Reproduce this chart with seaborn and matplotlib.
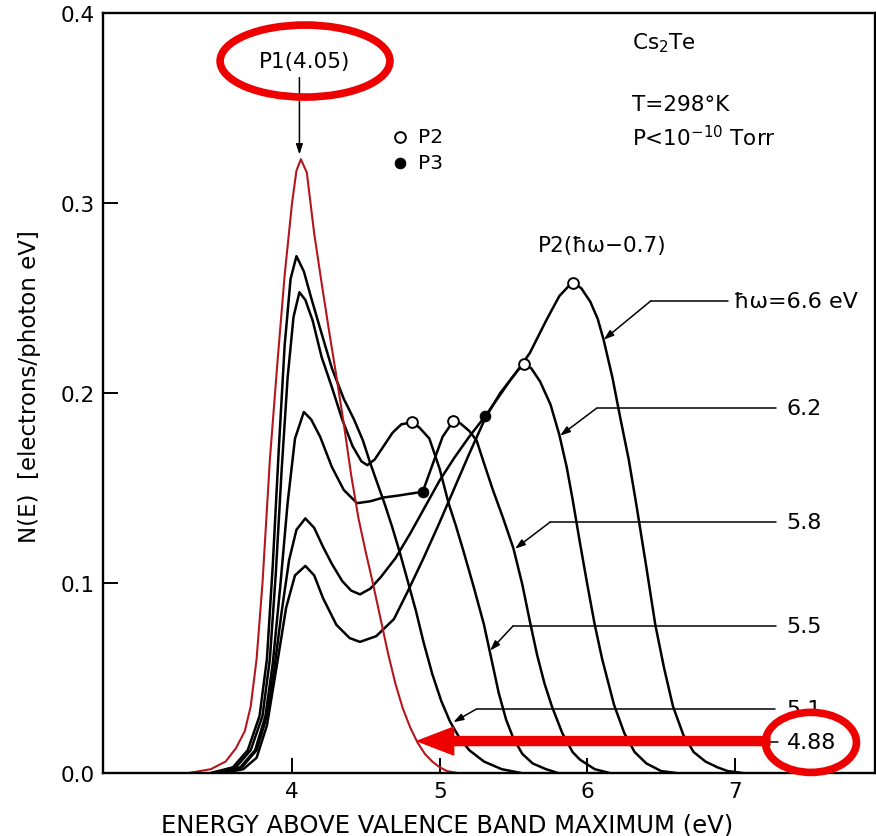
import pandas as pd
import seaborn as sns
import matplotlib.pyplot as plt
from matplotlib.patches import Ellipse

sns.set_style("ticks")
plt.rcParams['font.family'] = ['DejaVu Sans']
plt.rcParams['mathtext.fontset'] = 'dejavusans'
for k in ('text.color', 'axes.labelcolor', 'xtick.color', 'ytick.color'):
    plt.rcParams[k] = 'black'

# photon energies of the energy distribution curves (eV)
photon = ['4.88', '5.1', '5.5', '5.8', '6.2', '6.6']

# energy above valence band maximum (eV) and N(E)
e_488 = [3.30, 3.45, 3.55, 3.62, 3.68, 3.72, 3.76, 3.80, 3.85, 3.90, 3.95, 4.00, 4.03, 4.06,
         4.10, 4.15, 4.20, 4.25, 4.30, 4.35, 4.40, 4.45, 4.50, 4.55, 4.60, 4.65, 4.70, 4.75,
         4.80, 4.85, 4.90, 4.95, 5.00, 5.05, 5.12]
n_488 = [0.000, 0.002, 0.006, 0.013, 0.022, 0.035, 0.060, 0.100, 0.165, 0.215, 0.262, 0.300,
         0.317, 0.323, 0.316, 0.284, 0.258, 0.233, 0.209, 0.184, 0.157, 0.134, 0.116, 0.099,
         0.081, 0.063, 0.047, 0.034, 0.024, 0.016, 0.010, 0.006, 0.003, 0.001, 0.000]

e_510 = [3.45, 3.60, 3.70, 3.78, 3.83, 3.87, 3.91, 3.95, 3.99, 4.03, 4.08, 4.13, 4.19, 4.27,
         4.35, 4.42, 4.48, 4.53, 4.58, 4.63, 4.68, 4.73, 4.78, 4.84, 4.89, 4.95, 5.01, 5.07,
         5.13, 5.20, 5.30, 5.42, 5.55]
n_510 = [0.000, 0.003, 0.012, 0.030, 0.060, 0.110, 0.170, 0.225, 0.260, 0.272, 0.264, 0.250,
         0.234, 0.213, 0.197, 0.186, 0.175, 0.163, 0.152, 0.141, 0.129, 0.116, 0.102, 0.085,
         0.069, 0.052, 0.038, 0.027, 0.019, 0.012, 0.006, 0.002, 0.000]

e_550 = [3.48, 3.62, 3.72, 3.80, 3.85, 3.89, 3.93, 3.97, 4.01, 4.05, 4.09, 4.14, 4.20, 4.27,
         4.34, 4.41, 4.47, 4.51, 4.56, 4.62, 4.68, 4.74, 4.81, 4.86, 4.93, 5.00, 5.06, 5.11,
         5.16, 5.23, 5.30, 5.35, 5.40, 5.45, 5.50, 5.56, 5.63, 5.72, 5.80]
n_550 = [0.000, 0.003, 0.012, 0.030, 0.060, 0.105, 0.160, 0.208, 0.240, 0.253, 0.249, 0.238,
         0.219, 0.203, 0.186, 0.172, 0.164, 0.162, 0.165, 0.172, 0.179, 0.1835, 0.1845, 0.182,
         0.176, 0.160, 0.142, 0.130, 0.117, 0.098, 0.078, 0.060, 0.042, 0.028, 0.018, 0.010,
         0.005, 0.002, 0.000]

e_580 = [3.50, 3.65, 3.75, 3.82, 3.87, 3.92, 3.97, 4.02, 4.08, 4.13, 4.19, 4.27, 4.35, 4.44,
         4.53, 4.62, 4.72, 4.80, 4.885, 4.95, 5.02, 5.09, 5.14, 5.20, 5.25, 5.30, 5.36, 5.43,
         5.50, 5.56, 5.61, 5.66, 5.71, 5.76, 5.83, 5.90, 5.95, 6.05, 6.15]
n_580 = [0.000, 0.003, 0.012, 0.030, 0.058, 0.098, 0.142, 0.176, 0.190, 0.186, 0.177, 0.161,
         0.149, 0.142, 0.143, 0.145, 0.146, 0.147, 0.148, 0.162, 0.177, 0.185, 0.184, 0.180,
         0.175, 0.163, 0.149, 0.134, 0.118, 0.099, 0.080, 0.062, 0.047, 0.035, 0.021, 0.011,
         0.007, 0.002, 0.000]

e_620 = [3.52, 3.66, 3.76, 3.83, 3.88, 3.93, 3.98, 4.03, 4.09, 4.15, 4.21, 4.27, 4.34, 4.40,
         4.46, 4.53, 4.60, 4.70, 4.80, 4.90, 5.00, 5.10, 5.20, 5.31, 5.40, 5.48, 5.53, 5.57,
         5.62, 5.68, 5.75, 5.81, 5.86, 5.90, 5.95, 6.00, 6.05, 6.10, 6.18, 6.25, 6.32, 6.40,
         6.50, 6.60]
n_620 = [0.000, 0.003, 0.012, 0.030, 0.055, 0.085, 0.112, 0.128, 0.134, 0.129, 0.119, 0.110,
         0.101, 0.096, 0.094, 0.097, 0.103, 0.113, 0.126, 0.140, 0.154, 0.166, 0.177, 0.188,
         0.198, 0.207, 0.212, 0.215, 0.213, 0.206, 0.194, 0.178, 0.161, 0.144, 0.121, 0.099,
         0.078, 0.060, 0.036, 0.021, 0.011, 0.005, 0.001, 0.000]

e_660 = [3.54, 3.67, 3.76, 3.83, 3.90, 3.96, 4.02, 4.09, 4.15, 4.21, 4.30, 4.39, 4.46, 4.57,
         4.69, 4.78, 4.89, 5.00, 5.10, 5.20, 5.31, 5.41, 5.51, 5.61, 5.72, 5.81, 5.87, 5.91,
         5.96, 6.02, 6.07, 6.11, 6.17, 6.22, 6.28, 6.33, 6.40, 6.46, 6.52, 6.58, 6.65, 6.72,
         6.80, 6.88, 6.95, 7.05]
n_660 = [0.000, 0.002, 0.008, 0.025, 0.058, 0.087, 0.104, 0.109, 0.104, 0.092, 0.078, 0.071,
         0.069, 0.072, 0.081, 0.095, 0.113, 0.132, 0.150, 0.168, 0.187, 0.200, 0.210, 0.221,
         0.238, 0.251, 0.256, 0.258, 0.255, 0.248, 0.239, 0.228, 0.208, 0.188, 0.165, 0.142,
         0.108, 0.078, 0.055, 0.035, 0.020, 0.011, 0.006, 0.003, 0.001, 0.000]

# P2 (open) and P3 (filled) peak positions
p2_e = [4.81, 5.09, 5.57, 5.905]
p2_n = [0.1845, 0.185, 0.215, 0.258]
p3_e = [4.885, 5.31]
p3_n = [0.148, 0.188]

curves = dict(zip(photon, [(e_488, n_488), (e_510, n_510), (e_550, n_550),
                           (e_580, n_580), (e_620, n_620), (e_660, n_660)]))
df = pd.concat([pd.DataFrame({'energy': e, 'N': n, 'hw': k}) for k, (e, n) in curves.items()])

RED = '#ee0000'

fig = plt.figure(figsize=(8.76, 8.37), dpi=100)
ax = fig.add_axes([0.1176, 0.0753, 0.8813, 0.908])

sns.lineplot(data=df[df.hw != '4.88'], x='energy', y='N', units='hw', estimator=None,
             color='black', lw=1.8, ax=ax, legend=False)
sns.lineplot(data=df[df.hw == '4.88'], x='energy', y='N', estimator=None,
             color='#b3161c', lw=1.5, ax=ax, legend=False)

sns.scatterplot(x=p2_e, y=p2_n, s=60, color='white', edgecolor='black', linewidth=1.4,
                zorder=5, label='P2', ax=ax)
sns.scatterplot(x=p3_e, y=p3_n, s=60, color='black', edgecolor='black',
                zorder=5, label='P3', ax=ax)
h, l = ax.get_legend_handles_labels()
keep = [i for i, s in enumerate(l) if s in ('P2', 'P3')]
ax.legend([h[i] for i in keep], [l[i] for i in keep], loc='upper left',
          bbox_to_anchor=(0.361, 0.863), frameon=False, fontsize=14.5,
          handlelength=0.8, handletextpad=0.5, labelspacing=0.35, borderpad=0)

ax.set_xlim(2.72, 7.948)
ax.set_ylim(0, 0.4)
ax.set_xticks([4, 5, 6, 7])
ax.set_yticks([0, 0.1, 0.2, 0.3, 0.4])
ax.set_yticklabels(['0.0', '0.1', '0.2', '0.3', '0.4'])
ax.tick_params(direction='in', length=11, width=1.4, labelsize=15.5, pad=6,
               top=False, right=False)
for sp in ax.spines.values():
    sp.set_visible(True)
    sp.set_linewidth(1.7)
    sp.set_color('black')

ax.set_xlabel('ENERGY ABOVE VALENCE BAND MAXIMUM (eV)', fontsize=17.5)
ax.xaxis.set_label_coords(0.4456, -0.052)
ax.set_ylabel('N(E)  [electrons/photon eV]', fontsize=16.5)
ax.yaxis.set_label_coords(-0.080, 0.51)

# leader lines to the photon energy labels: (label, tip, elbow x, line end, y, label x)
leaders = [
    ('\u0127\u03c9=6.6 eV', (6.11, 0.228), 6.43, 6.95, 0.2485, 6.99),
    ('6.2', (5.815, 0.1775), 6.063, 7.28, 0.192, 7.35),
    ('5.8', (5.51, 0.118), 5.747, 7.28, 0.132, 7.35),
    ('5.5', (5.341, 0.0644), 5.497, 7.28, 0.0774, 7.35),
    ('5.1', (5.092, 0.0267), 5.25, 7.27, 0.0337, 7.35),
]
for txt, tip, ex, xend, y, tx in leaders:
    ax.plot([ex, xend], [y, y], color='black', lw=1.1)
    ax.annotate('', xy=tip, xytext=(ex, y),
                arrowprops=dict(arrowstyle='-|>,head_length=0.6,head_width=0.2',
                                lw=1.1, color='black', shrinkA=0, shrinkB=0))
    ax.text(tx, y, txt, ha='left', va='center', fontsize=16)
ax.plot([7.24, 7.29], [0.0163, 0.0163], color='black', lw=1.1)
ax.text(7.35, 0.0163, '4.88', ha='left', va='center', fontsize=16, zorder=6)

# P1 label and arrow
ax.text(4.088, 0.3747, 'P1(4.05)', ha='center', va='center', fontsize=15.5)
ax.annotate('', xy=(4.05, 0.3255), xytext=(4.05, 0.366),
            arrowprops=dict(arrowstyle='-|>,head_length=0.6,head_width=0.2',
                            lw=1.1, color='black', shrinkA=0, shrinkB=0))

ax.text(6.30, 0.3847, 'Cs$_2$Te', ha='left', va='center', fontsize=15.5)
ax.text(6.30, 0.352, 'T=298\u00b0K', ha='left', va='center', fontsize=15.5)
ax.text(6.30, 0.335, 'P<10$^{-10}$ Torr', ha='left', va='center', fontsize=15.5)
ax.text(5.666, 0.278, 'P2(\u0127\u03c9\u22120.7)', ha='left', va='center', fontsize=15.5)

# red highlight marks
ax.add_patch(Ellipse((4.088, 0.3747), 1.15, 0.0379, fill=False, ec=RED, lw=5.5, zorder=7))
ax.add_patch(Ellipse((7.514, 0.0161), 0.616, 0.0316, fill=False, ec=RED, lw=5.5,
                     zorder=7, clip_on=False))
ax.annotate('', xy=(4.85, 0.0168), xytext=(7.236, 0.0168),
            arrowprops=dict(width=6.5, headwidth=20, headlength=26, color=RED,
                            shrink=0), zorder=7)

fig.savefig('out.png', dpi=100)
